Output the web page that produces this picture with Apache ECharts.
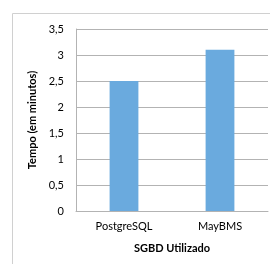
<!DOCTYPE html>
<html lang="pt">
<head>
    <meta charset="UTF-8">
    <title>Tempo por SGBD</title>
    <script src="https://cdn.jsdelivr.net/npm/echarts@6/dist/echarts.min.js"></script>
    <style>
        html, body { margin: 0; padding: 0; background: #fff; }
        #chart { width: 270px; height: 264px; }
    </style>
</head>
<body>
<div id="chart"></div>
<script>
    // dados
    var categorias = ['PostgreSQL', 'MayBMS'];
    var tempos = [2.5, 3.1];

    var chart = echarts.init(document.getElementById('chart'));
    var fonte = 'Lato, "Open Sans", sans-serif';

    chart.setOption({
        backgroundColor: '#ffffff',
        animation: false,
        graphic: [{
            type: 'rect',
            shape: { x: 12.5, y: 13.5, width: 300, height: 300 },
            style: { fill: 'none', stroke: '#d0d0d0', lineWidth: 1 },
            silent: true
        }],
        grid: { left: 76, top: 29, right: 2, bottom: 53 },
        xAxis: {
            type: 'category',
            data: categorias,
            name: 'SGBD Utilizado',
            nameLocation: 'middle',
            nameGap: 32,
            nameTextStyle: { fontFamily: fonte, fontSize: 11, fontWeight: 'bold', color: '#000' },
            axisLine: { lineStyle: { color: '#b3b3b3', width: 1 } },
            axisTick: { show: false },
            axisLabel: { fontFamily: fonte, fontSize: 11, color: '#000', margin: 10 }
        },
        yAxis: {
            type: 'value',
            min: 0,
            max: 3.5,
            interval: 0.5,
            name: 'Tempo (em minutos)',
            nameLocation: 'middle',
            nameGap: 27,
            nameTextStyle: { fontFamily: fonte, fontSize: 11, fontWeight: 'bold', color: '#000' },
            axisLine: { show: true, lineStyle: { color: '#b3b3b3', width: 1 } },
            axisTick: { show: false },
            axisLabel: {
                fontFamily: fonte, fontSize: 11, color: '#000', margin: 12,
                formatter: function (v) { return String(v).replace('.', ','); }
            },
            splitLine: { lineStyle: { color: '#b3b3b3', width: 1 } }
        },
        series: [{
            type: 'bar',
            data: tempos,
            barWidth: '30%',
            itemStyle: { color: '#6aaade' }
        }]
    });
</script>
</body>
</html>
